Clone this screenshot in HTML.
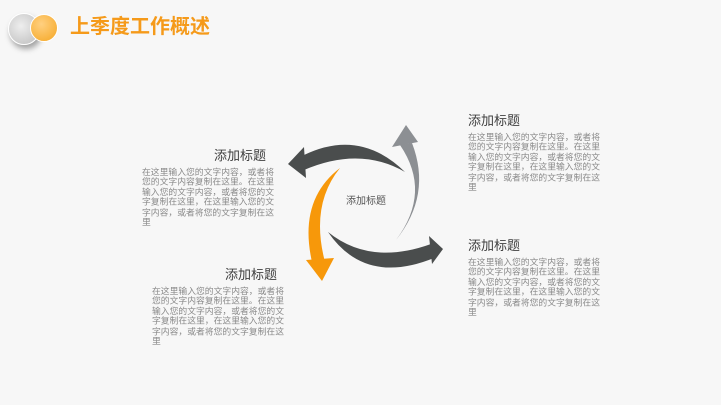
<!DOCTYPE html>
<html><head><meta charset="utf-8"><style>
body{margin:0;width:721px;height:405px;overflow:hidden;background:#f7f7f7;font-family:"Liberation Sans","Noto Sans CJK SC",sans-serif;position:relative}
.t{position:absolute;font-size:13px;color:#404040;line-height:15px}
.b{position:absolute;font-size:10px;line-height:11.4px;color:#8a8a8a;white-space:nowrap;transform:scale(0.88);transform-origin:0 0;font-family:"Noto Sans CJK SC",sans-serif}
</style></head><body>
<div style="position:absolute;left:8px;top:13px;width:30px;height:30px;border-radius:50%;background:radial-gradient(circle at 40% 40%,#eee,#bbb);box-shadow:2px 4px 6px rgba(0,0,0,.35);border:1px solid #fff"></div>
<div style="position:absolute;left:30px;top:14px;width:26px;height:26px;border-radius:50%;background:radial-gradient(circle at 40% 35%,#ffd080,#f5a623);border:1px solid #fff"></div>
<div style="position:absolute;left:70px;top:14px;font-size:20px;font-weight:bold;color:#f59a1a;line-height:26px">上季度工作概述</div>
<svg width="721" height="405" style="position:absolute;left:0;top:0">
<path d="M405,172 Q360,128 304,155 L304,170 Q360,146 405,172 Z" fill="#4a4d4d"/>
<polygon points="304,147 288,164 306,178" fill="#4a4d4d"/>
<path d="M396,240 Q432,192 400,145 L412,143 Q432,195 396,240 Z" fill="#8c8f93"/>
<polygon points="392,147 406,125 418,142" fill="#8c8f93"/>
<path d="M340,168 Q298,200 312,262 L325,262 Q310,205 340,168 Z" fill="#f7980a"/>
<polygon points="306,260 322,281 334,258" fill="#f7980a"/>
<path d="M328,232 Q365,286 434,258 L431,244 Q370,266 328,232 Z" fill="#4a4d4d"/>
<polygon points="429,236 443,249 432,264" fill="#4a4d4d"/>
</svg>
<div class="t" style="left:346px;top:194px;font-size:10px;color:#555">添加标题</div>
<div class="t" style="left:214px;top:148px">添加标题</div>
<div class="b" style="left:142px;top:166px">在这里输入您的文字内容，或者将<br>您的文字内容复制在这里。在这里<br>输入您的文字内容，或者将您的文<br>字复制在这里，在这里输入您的文<br>字内容，或者将您的文字复制在这<br>里</div>
<div class="t" style="left:225px;top:267px">添加标题</div>
<div class="b" style="left:152px;top:285px">在这里输入您的文字内容，或者将<br>您的文字内容复制在这里。在这里<br>输入您的文字内容，或者将您的文<br>字复制在这里，在这里输入您的文<br>字内容，或者将您的文字复制在这<br>里</div>
<div class="t" style="left:468px;top:113px">添加标题</div>
<div class="b" style="left:468px;top:131px">在这里输入您的文字内容，或者将<br>您的文字内容复制在这里。在这里<br>输入您的文字内容，或者将您的文<br>字复制在这里，在这里输入您的文<br>字内容，或者将您的文字复制在这<br>里</div>
<div class="t" style="left:468px;top:238px">添加标题</div>
<div class="b" style="left:468px;top:256px">在这里输入您的文字内容，或者将<br>您的文字内容复制在这里。在这里<br>输入您的文字内容，或者将您的文<br>字复制在这里，在这里输入您的文<br>字内容，或者将您的文字复制在这<br>里</div>
</body></html>
